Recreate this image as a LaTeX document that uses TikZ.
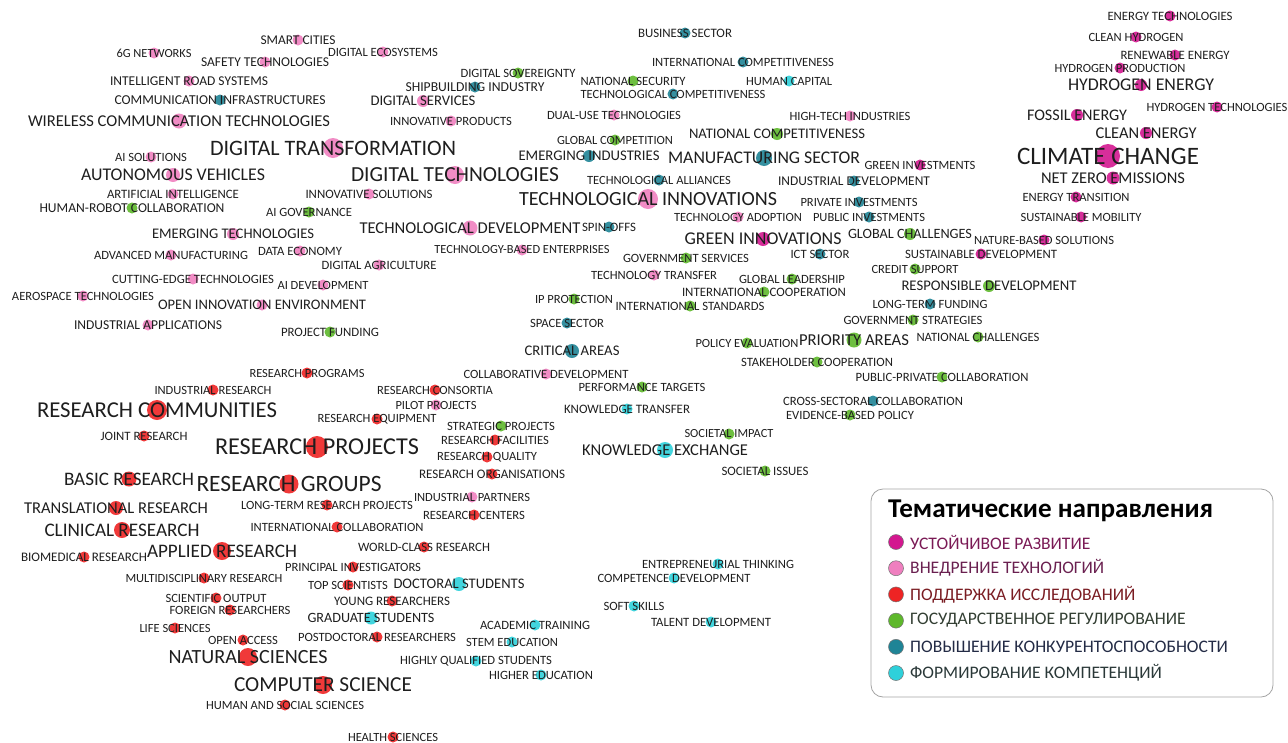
\documentclass[tikz,border=0pt]{standalone}
\usepackage{fontspec}
\setmainfont{Carlito}
\usepackage{tikz}
\usepackage{xcolor}
\definecolor{Sustain Magenta}{HTML}{D3178F}
\definecolor{Tech Pink}{HTML}{EF7FBF}
\definecolor{Research Red}{HTML}{EE2424}
\definecolor{Policy Green}{HTML}{5EB82B}
\definecolor{Compete Blue}{HTML}{1F8496}
\definecolor{Skills Cyan}{HTML}{2ED0DA}
\definecolor{Label Gray}{HTML}{1E1E1E}
\definecolor{Frame Gray}{HTML}{A3A3A3}
\definecolor{Ink Plum}{HTML}{7A1A55}
\definecolor{Ink Wine}{HTML}{6A2050}
\definecolor{Ink Red}{HTML}{7A1C22}
\definecolor{Ink Moss}{HTML}{333F33}
\definecolor{Ink Navy}{HTML}{232B45}
\definecolor{Ink Slate}{HTML}{2A3838}

% font size chosen so that the text gets the given width
\newcommand{\fitsize}[2]{\pgfmathsetmacro\fs{10*#1/width("#2")}\fontsize{\fs}{\fs}\selectfont #2}

% x/y/width/radius/colour/label
\newcommand{\termlist}{
    298/40/75/5.5/Tech Pink/SMART CITIES,
    383/52/110/5.5/Tech Pink/DIGITAL ECOSYSTEMS,
    154/53/75/5.5/Tech Pink/6G NETWORKS,
    265/62/128/5.5/Tech Pink/SAFETY TECHNOLOGIES,
    189/81/158/5.5/Tech Pink/INTELLIGENT ROAD SYSTEMS,
    220/100/211/5.5/Compete Blue/COMMUNICATION INFRASTRUCTURES,
    179/121/302/7.5/Tech Pink/WIRELESS COMMUNICATION TECHNOLOGIES,
    333/148/246/10/Tech Pink/DIGITAL TRANSFORMATION,
    151/157/72/5.5/Tech Pink/AI SOLUTIONS,
    173/175/184/7/Tech Pink/AUTONOMOUS VEHICLES,
    455/175/208/9/Tech Pink/DIGITAL TECHNOLOGIES,
    173/194/132/5.5/Tech Pink/ARTIFICIAL INTELLIGENCE,
    369/194/127/5.5/Tech Pink/INNOVATIVE SOLUTIONS,
    132/208/185/5.5/Policy Green/HUMAN-ROBOT COLLABORATION,
    309/212/86/5.5/Policy Green/AI GOVERNANCE,
    233/234/162/6/Tech Pink/EMERGING TECHNOLOGIES,
    470/228/221/7.5/Tech Pink/TECHNOLOGICAL DEVELOPMENT,
    609/227/54/5.5/Compete Blue/SPIN-OFFS,
    648/199/258/10/Tech Pink/TECHNOLOGICAL INNOVATIONS,
    518/73/115/5.5/Policy Green/DIGITAL SOVEREIGNTY,
    475/87/139/5.5/Compete Blue/SHIPBUILDING INDUSTRY,
    423/101/105/6/Tech Pink/DIGITAL SERVICES,
    451/121/122/5.5/Tech Pink/INNOVATIVE PRODUCTS,
    633/81/105/5.5/Policy Green/NATIONAL SECURITY,
    673/94/185/5.5/Compete Blue/TECHNOLOGICAL COMPETITIVENESS,
    685/33/94/5.5/Compete Blue/BUSINESS SECTOR,
    743/62/182/5.5/Compete Blue/INTERNATIONAL COMPETITIVENESS,
    789/81/86/5.5/Skills Cyan/HUMAN CAPITAL,
    614/115/134/5.5/Tech Pink/DUAL-USE TECHNOLOGIES,
    850/116/121/5.5/Tech Pink/HIGH-TECH INDUSTRIES,
    615/140/116/5.5/Policy Green/GLOBAL COMPETITION,
    777/134/176/6/Policy Green/NATIONAL COMPETITIVENESS,
    589/156/141/6/Compete Blue/EMERGING INDUSTRIES,
    764/158/192/8/Compete Blue/MANUFACTURING SECTOR,
    920/165/111/5.5/Sustain Magenta/GREEN INVESTMENTS,
    659/180/144/5.5/Compete Blue/TECHNOLOGICAL ALLIANCES,
    854/181/152/5.5/Compete Blue/INDUSTRIAL DEVELOPMENT,
    859/202/117/5.5/Compete Blue/PRIVATE INVESTMENTS,
    738/217/128/5.5/Tech Pink/TECHNOLOGY ADOPTION,
    869/217/112/5.5/Compete Blue/PUBLIC INVESTMENTS,
    763/239/157/7/Sustain Magenta/GREEN INNOVATIONS,
    910/234/124/6/Policy Green/GLOBAL CHALLENGES,
    1170/16/125/5.5/Sustain Magenta/ENERGY TECHNOLOGIES,
    1136/37/95/5.5/Sustain Magenta/CLEAN HYDROGEN,
    1175/55/109/5.5/Sustain Magenta/RENEWABLE ENERGY,
    1120/68/131/5.5/Sustain Magenta/HYDROGEN PRODUCTION,
    1141/85/146/6/Sustain Magenta/HYDROGEN ENERGY,
    1077/115/100/6/Sustain Magenta/FOSSIL ENERGY,
    1217/107/141/5.5/Sustain Magenta/HYDROGEN TECHNOLOGIES,
    1146/133/101/6/Sustain Magenta/CLEAN ENERGY,
    1108/156/182/12/Sustain Magenta/CLIMATE CHANGE,
    1113/178/144/6.5/Sustain Magenta/NET ZERO EMISSIONS,
    1076/197/107/5.5/Sustain Magenta/ENERGY TRANSITION,
    1081/217/121/5.5/Sustain Magenta/SUSTAINABLE MOBILITY,
    1044/240/140/5.5/Sustain Magenta/NATURE-BASED SOLUTIONS,
    981/254/152/5.5/Sustain Magenta/SUSTAINABLE DEVELOPMENT,
    820/254/59/5.5/Compete Blue/ICT SECTOR,
    686/258/126/5.5/Policy Green/GOVERNMENT SERVICES,
    654/275/126/5.5/Tech Pink/TECHNOLOGY TRANSFER,
    792/279/106/5.5/Policy Green/GLOBAL LEADERSHIP,
    915/269/87/5.5/Policy Green/CREDIT SUPPORT,
    989/286/175/6/Policy Green/RESPONSIBLE DEVELOPMENT,
    764/292/164/5.5/Policy Green/INTERNATIONAL COOPERATION,
    574/299/78/5.5/Policy Green/IP PROTECTION,
    690/306/149/5.5/Policy Green/INTERNATIONAL STANDARDS,
    930/304/115/5.5/Compete Blue/LONG-TERM FUNDING,
    913/320/139/5.5/Policy Green/GOVERNMENT STRATEGIES,
    567/323/74/5.5/Compete Blue/SPACE SECTOR,
    978/337/123/5.5/Policy Green/NATIONAL CHALLENGES,
    747/343/103/5.5/Policy Green/POLICY EVALUATION,
    854/340/110/7.5/Policy Green/PRIORITY AREAS,
    572/351/95/7/Compete Blue/CRITICAL AREAS,
    817/362/152/5.5/Policy Green/STAKEHOLDER COOPERATION,
    942/377/173/5.5/Policy Green/PUBLIC-PRIVATE COLLABORATION,
    546/374/165/5.5/Tech Pink/COLLABORATIVE DEVELOPMENT,
    307/373/115/5.5/Research Red/RESEARCH PROGRAMS,
    213/390/117/5.5/Research Red/INDUSTRIAL RESEARCH,
    435/390/116/5.5/Research Red/RESEARCH CONSORTIA,
    642/387/127/5.5/Policy Green/PERFORMANCE TARGETS,
    436/405/81/5.5/Tech Pink/PILOT PROJECTS,
    157/410/240/10/Research Red/RESEARCH COMMUNITIES,
    377/419/119/5.5/Research Red/RESEARCH EQUIPMENT,
    501/426/108/5.5/Policy Green/STRATEGIC PROJECTS,
    627/409/126/5.5/Skills Cyan/KNOWLEDGE TRANSFER,
    873/401/180/5.5/Compete Blue/CROSS-SECTORAL COLLABORATION,
    850/415/128/5.5/Policy Green/EVIDENCE-BASED POLICY,
    144/436/87/5.5/Research Red/JOINT RESEARCH,
    317/447/204/11/Research Red/RESEARCH PROJECTS,
    495/440/108/5.5/Research Red/RESEARCH FACILITIES,
    729/434/89/5.5/Policy Green/SOCIETAL IMPACT,
    665/450/166/8/Skills Cyan/KNOWLEDGE EXCHANGE,
    487/457/100/5.5/Research Red/RESEARCH QUALITY,
    765/471/87/5.5/Policy Green/SOCIETAL ISSUES,
    492/474/146/5.5/Research Red/RESEARCH ORGANISATIONS,
    129/479/130/7.5/Research Red/BASIC RESEARCH,
    289/484/185/9.5/Research Red/RESEARCH GROUPS,
    472/497/116/5.5/Tech Pink/INDUSTRIAL PARTNERS,
    327/505/172/5.5/Research Red/LONG-TERM RESEARCH PROJECTS,
    116/508/184/7/Research Red/TRANSLATIONAL RESEARCH,
    474/515/102/5.5/Research Red/RESEARCH CENTERS,
    122/530/155/8/Research Red/CLINICAL RESEARCH,
    337/527/173/5.5/Research Red/INTERNATIONAL COLLABORATION,
    424/547/132/5.5/Research Red/WORLD-CLASS RESEARCH,
    84/557/126/5.5/Research Red/BIOMEDICAL RESEARCH,
    222/551/150/9/Research Red/APPLIED RESEARCH,
    353/567/136/5.5/Research Red/PRINCIPAL INVESTIGATORS,
    204/578/157/5.5/Research Red/MULTIDISCIPLINARY RESEARCH,
    348/585/80/5.5/Research Red/TOP SCIENTISTS,
    459/584/131/7/Skills Cyan/DOCTORAL STUDENTS,
    216/598/101/5.5/Research Red/SCIENTIFIC OUTPUT,
    392/601/116/5.5/Research Red/YOUNG RESEARCHERS,
    230/610/121/5.5/Research Red/FOREIGN RESEARCHERS,
    371/618/127/6.5/Skills Cyan/GRADUATE STUDENTS,
    175/628/71/5.5/Research Red/LIFE SCIENCES,
    535/625/110/5.5/Skills Cyan/ACADEMIC TRAINING,
    243/640/70/5.5/Research Red/OPEN ACCESS,
    377/637/158/5.5/Research Red/POSTDOCTORAL RESEARCHERS,
    512/642/92/5.5/Skills Cyan/STEM EDUCATION,
    248/657/159/9/Research Red/NATURAL SCIENCES,
    476/661/152/5.5/Skills Cyan/HIGHLY QUALIFIED STUDENTS,
    541/675/104/5.5/Skills Cyan/HIGHER EDUCATION,
    323/685/178/9/Research Red/COMPUTER SCIENCE,
    285/705/158/5.5/Research Red/HUMAN AND SOCIAL SCIENCES,
    393/737/90/5.5/Research Red/HEALTH SCIENCES,
    718/564/152/5.5/Skills Cyan/ENTREPRENEURIAL THINKING,
    674/578/153/5.5/Skills Cyan/COMPETENCE DEVELOPMENT,
    634/606/61/5.5/Skills Cyan/SOFT SKILLS,
    711/622/120/5.5/Skills Cyan/TALENT DEVELOPMENT,
    171/255/154/5.5/Tech Pink/ADVANCED MANUFACTURING,
    300/251/84/5.5/Tech Pink/DATA ECONOMY,
    379/265/115/5.5/Tech Pink/DIGITAL AGRICULTURE,
    193/279/162/5.5/Tech Pink/CUTTING-EDGE TECHNOLOGIES,
    323/285/91/5.5/Tech Pink/AI DEVELOPMENT,
    83/296/142/5.5/Tech Pink/AEROSPACE TECHNOLOGIES,
    262/305/208/5.5/Tech Pink/OPEN INNOVATION ENVIRONMENT,
    148/325/148/5.5/Tech Pink/INDUSTRIAL APPLICATIONS,
    330/332/98/5.5/Policy Green/PROJECT FUNDING,
    522/250/178/5.5/Tech Pink/TECHNOLOGY-BASED ENTERPRISES
}

\begin{document}
\begin{tikzpicture}[x=1pt, y=-1pt,
    term/.style={inner sep=0pt, text=Label Gray},
    legend entry/.style={anchor=west, inner sep=0pt, font=\fontsize{17.6}{19}\selectfont}]
    \useasboundingbox (0,0) rectangle (1288,742);
    % Bubbles first, labels on top
    \foreach \x/\y/\w/\r/\colorname/\txt in \termlist {
        \fill[\colorname, fill opacity=0.9] (\x,\y) circle[radius=\r];
    }
    \foreach \x/\y/\w/\r/\colorname/\txt [count=\i] in \termlist {
        \node[term] (t\i) at (\x,\y) {\fitsize{\w}{\txt}};
    }
    % Legend
    \draw[Frame Gray, line width=0.8pt, rounded corners=12pt] (871,489) rectangle (1273,697);
    \node[anchor=west, inner sep=0pt, font=\bfseries, text=black] (title) at (888,511)
        {\fitsize{325}{Тематические направления}};
    \foreach \colorname/\inkname/\txt [count=\i from 0] in {
        Sustain Magenta/Ink Plum/УСТОЙЧИВОЕ РАЗВИТИЕ,
        Tech Pink/Ink Wine/ВНЕДРЕНИЕ ТЕХНОЛОГИЙ,
        Research Red/Ink Red/ПОДДЕРЖКА ИССЛЕДОВАНИЙ,
        Policy Green/Ink Moss/ГОСУДАРСТВЕННОЕ РЕГУЛИРОВАНИЕ,
        Compete Blue/Ink Navy/ПОВЫШЕНИЕ КОНКУРЕНТОСПОСОБНОСТИ,
        Skills Cyan/Ink Slate/ФОРМИРОВАНИЕ КОМПЕТЕНЦИЙ
    } {
        % Colour dot
        \filldraw[fill=\colorname, draw=black!55, line width=0.5pt] (896,{542+26.2*\i}) circle[radius=7.5];
        % Direction name
        \node[legend entry, text=\inkname] (l\i) at (910,{542+26.2*\i}) {\txt};
    }
\end{tikzpicture}
\end{document}
